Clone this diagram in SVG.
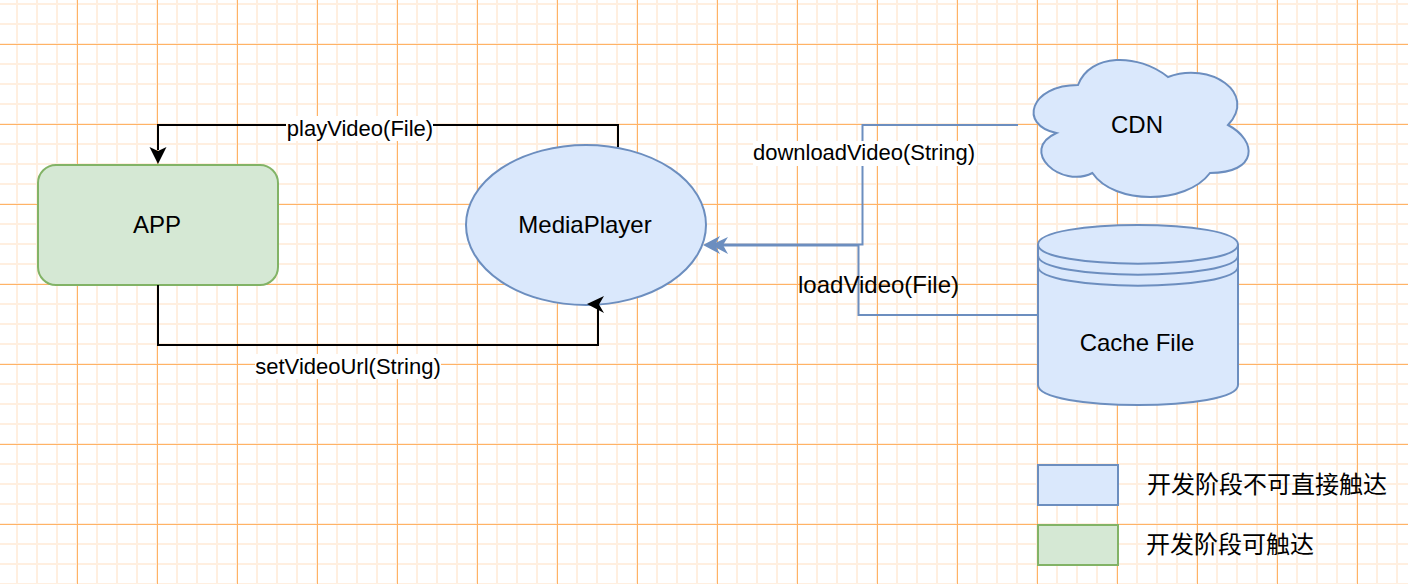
<svg xmlns="http://www.w3.org/2000/svg" width="1408" height="584" viewBox="0 0 1408 584">
<style>
text{font-family:"Liberation Sans",Arial,"Noto Sans CJK SC",sans-serif;font-size:22px;fill:#000;text-anchor:middle}
.big{font-size:24px}
.cjk{font-family:"Noto Sans CJK SC","Liberation Sans",sans-serif;font-size:24px;text-anchor:start}
.bl{fill:#dae8fc;stroke:#6c8ebf;stroke-width:2}
.gr{fill:#d5e8d4;stroke:#82b366;stroke-width:2}
.k{fill:none;stroke:#000;stroke-width:2}
.e{fill:none;stroke:#6c8ebf;stroke-width:2}
.lb{fill:#fff}
</style>
<defs>
<pattern id="minor" width="20" height="20" patternUnits="userSpaceOnUse" x="-4" y="3">
<path d="M0 0H20M0 0V20" fill="none" stroke="#ffefe0" stroke-width="4"/>
</pattern>
<pattern id="major" width="80" height="80" patternUnits="userSpaceOnUse" x="77" y="44">
<path d="M0 .5H80M.5 0V80" fill="none" stroke="#ffb366" stroke-width="1"/>
</pattern>
</defs>
<rect width="1408" height="584" fill="#fff"/>
<g id="grid">
<rect width="1408" height="584" fill="url(#minor)"/>
<rect width="1408" height="584" fill="url(#major)"/>
</g>
<g id="app"><rect class="gr" x="38" y="165" width="240" height="120" rx="18" ry="18"/><text class="big" x="157" y="233">APP</text></g>
<g id="mediaplayer"><ellipse class="bl" cx="586" cy="225" rx="120" ry="80"/><text class="big" x="585" y="233">MediaPlayer</text></g>
<g id="cdn"><path class="bl" d="M1078 85C1030 85 1018 125 1056.400 133C1018 150.600 1061.200 189 1092.400 173C1114 205 1186 205 1210 173C1258 173 1258 141 1228 125C1258 93 1210 61 1168 77C1138 53 1090 53 1078 85Z"/><text class="big" x="1137" y="133">CDN</text></g>
<g id="cache"><path class="bl" d="M1038 244.500C1038 218.500 1238 218.500 1238 244.500V385C1238 411.500 1038 411.500 1038 385Z"/><path class="bl" style="fill:none" d="M1038 244.500C1038 270 1238 270 1238 244.500M1038 255.500C1038 281 1238 281 1238 255.500M1038 266.500C1038 292 1238 292 1238 266.500"/><text class="big" x="1137" y="351">Cache File</text></g>
<g id="connectors">
<path class="k" d="M618 147V125H158V150"/>
<polygon points="158,164 149.500,147 158,151 166.500,147"/>
<path class="k" d="M158 285V345H598V306"/>
<polygon points="587,304 604,296 599,304.500 604,313"/>
<path class="e" d="M1018 125H862.500V244.500H715"/>
<path class="e" d="M1038 315H858.500V245.500H715"/>
<polygon points="711,245 728,237 723,245 728,254" fill="#6c8ebf"/>
<polygon points="703,245 720,236 715,245 720,254" fill="#6c8ebf"/>
</g>
<g id="label-playVideo"><rect class="lb" x="286" y="116" width="147" height="25"/><text x="360" y="136">playVideo(File)</text></g>
<g id="label-setVideoUrl"><rect class="lb" x="255" y="354" width="186" height="25"/><text x="348" y="374">setVideoUrl(String)</text></g>
<g id="label-downloadVideo"><rect class="lb" x="753" y="141" width="224" height="25"/><text x="864" y="160">downloadVideo(String)</text></g>
<g id="label-loadVideo"><text class="big" x="878.500" y="293">loadVideo(File)</text></g>
<g id="legend-blue"><rect class="bl" x="1038" y="465" width="80" height="40"/><text class="cjk" x="1147" y="493">开发阶段不可直接触达</text></g>
<g id="legend-green"><rect class="gr" x="1038" y="525" width="80" height="40"/><text class="cjk" x="1146" y="553">开发阶段可触达</text></g>
</svg>
